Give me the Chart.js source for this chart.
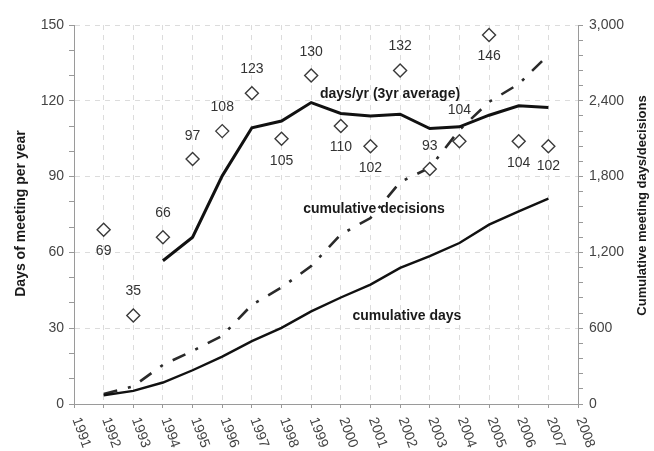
<!DOCTYPE html>
<html>
<head>
<meta charset="utf-8">
<script src="https://cdn.jsdelivr.net/npm/chart.js@4.4.1/dist/chart.umd.min.js"></script>
<style>
  html, body { margin: 0; padding: 0; background: #fff; }
  canvas { display: block; }
</style>
</head>
<body>
<canvas id="myChart" width="654" height="451"></canvas>
<script>
// values
const years = [1992, 1993, 1994, 1995, 1996, 1997, 1998, 1999, 2000, 2001, 2002, 2003, 2004, 2005, 2006, 2007];
const daysPerYear = [69, 35, 66, 97, 108, 123, 105, 130, 110, 102, 132, 93, 104, 146, 104, 102];
const avg3yr = [null, null, 56.7, 66, 90.3, 109.3, 112, 119.3, 115, 114, 114.7, 109, 109.7, 114.3, 118, 117.3];
const cumDays = [69, 104, 170, 267, 375, 498, 603, 733, 843, 945, 1077, 1170, 1274, 1420, 1524, 1626];
const cumDecisions = [80, 140, 310, 420, 540, 785, 922, 1092, 1342, 1472, 1757, 1870, 2169, 2391, 2533, 2763];
const yearTicks = [1991, 1992, 1993, 1994, 1995, 1996, 1997, 1998, 1999, 2000, 2001, 2002, 2003, 2004, 2005, 2006, 2007, 2008];

// where the number sits relative to its diamond (px, minus = above)
const labelShift = [21, -24, -24, -23, -24, -24, 22, -23, 21, 22, -24, -23, -31, 21, 22, 20];

const FONT = "'Liberation Sans', Arial, sans-serif";

const toXY = (vals) => years.map((yr, i) => ({ x: yr, y: vals[i] }));

const seriesText = {
  id: 'seriesText',
  beforeDatasetsDraw(chart) {
    const { ctx, scales } = chart;
    ctx.save();
    ctx.font = 'bold 14px ' + FONT;
    ctx.fillStyle = '#1a1a1a';
    ctx.textAlign = 'center';
    ctx.textBaseline = 'middle';
    ctx.fillText('days/yr (3yr average)', scales.x.getPixelForValue(2001.66), scales.y.getPixelForValue(122.7));
    ctx.fillText('cumulative decisions', scales.x.getPixelForValue(2001.12), scales.y.getPixelForValue(77.2));
    ctx.fillText('cumulative days', scales.x.getPixelForValue(2002.23), scales.y.getPixelForValue(34.8));
    ctx.restore();
  },
  afterDraw(chart) {
    const { ctx, scales } = chart;
    ctx.save();
    // numbers next to the diamonds
    const meta = chart.getDatasetMeta(0);
    ctx.font = '14px ' + FONT;
    ctx.fillStyle = '#333';
    ctx.textAlign = 'center';
    ctx.textBaseline = 'middle';
    meta.data.forEach((pt, i) => {
      ctx.fillText(String(daysPerYear[i]), pt.x, pt.y + labelShift[i]);
    });

    // rotated year labels
    ctx.fillStyle = '#444';
    ctx.textAlign = 'left';
    scales.x.ticks.forEach((t) => {
      const x = scales.x.getPixelForValue(t.value);
      ctx.save();
      ctx.translate(x + 2, scales.x.top + 14);
      ctx.rotate(70 * Math.PI / 180);
      ctx.fillText(String(t.value), 0, 0);
      ctx.restore();
    });

    // axis titles
    ctx.font = 'bold 14px ' + FONT;
    ctx.fillStyle = '#1a1a1a';
    ctx.textAlign = 'center';
    const mid = (chart.chartArea.top + chart.chartArea.bottom) / 2;
    ctx.save();
    ctx.translate(21, mid - 1);
    ctx.rotate(-Math.PI / 2);
    ctx.fillText('Days of meeting per year', 0, 0);
    ctx.restore();
    ctx.font = 'bold 13px ' + FONT;
    ctx.save();
    ctx.translate(642, mid - 9);
    ctx.rotate(-Math.PI / 2);
    ctx.fillText('Cumulative meeting days/decisions', 0, 0);
    ctx.restore();
    ctx.restore();
  }
};

new Chart(document.getElementById('myChart'), {
  type: 'line',
  data: {
    datasets: [
      {
        label: 'days per year',
        data: toXY(daysPerYear),
        yAxisID: 'y',
        showLine: false,
        pointStyle: 'rectRot',
        pointRadius: 6.5,
        pointBorderWidth: 1.4,
        pointBorderColor: '#3a3a3a',
        pointBackgroundColor: '#fff'
      },
      {
        label: 'days/yr (3yr average)',
        data: toXY(avg3yr),
        yAxisID: 'y',
        borderColor: '#111',
        borderWidth: 3,
        pointRadius: 0,
        tension: 0
      },
      {
        label: 'cumulative days',
        data: toXY(cumDays),
        yAxisID: 'y2',
        borderColor: '#111',
        borderWidth: 2.4,
        pointRadius: 0,
        tension: 0
      },
      {
        label: 'cumulative decisions',
        data: toXY(cumDecisions),
        yAxisID: 'y2',
        borderColor: '#2a2a2a',
        borderWidth: 2.6,
        borderDash: [14, 11, 3, 11],
        pointRadius: 0,
        tension: 0
      }
    ]
  },
  options: {
    responsive: false,
    devicePixelRatio: 1,
    animation: false,
    layout: { padding: { top: 25, left: 0, right: 0, bottom: 0 } },
    plugins: { legend: { display: false }, tooltip: { enabled: false } },
    scales: {
      x: {
        type: 'linear',
        min: 1991,
        max: 2008,
        afterBuildTicks: (scale) => { scale.ticks = yearTicks.map((v) => ({ value: v })); },
        afterFit: (scale) => { scale.height = 47; },
        ticks: { display: false },
        grid: { color: '#dcdcdc', tickColor: '#999', tickLength: 4, lineWidth: 1 },
        border: { color: '#9a9a9a', width: 1, dash: [5, 5] }
      },
      y: {
        position: 'left',
        min: 0,
        max: 150,
        afterFit: (scale) => { scale.width = 74; },
        ticks: {
          stepSize: 10,
          autoSkip: false,
          padding: 5,
          color: '#444',
          font: { family: FONT, size: 14 },
          callback: (v) => (v % 30 === 0 ? String(v) : '')
        },
        grid: {
          color: (c) => (c.tick && c.tick.value % 30 === 0 && c.tick.value > 0 ? '#dcdcdc' : 'rgba(0,0,0,0)'),
          tickColor: '#999',
          tickLength: 5
        },
        border: { color: '#9a9a9a', width: 1, dash: [5, 5] }
      },
      y2: {
        position: 'right',
        min: 0,
        max: 3000,
        afterFit: (scale) => { scale.width = 76; },
        ticks: {
          stepSize: 120,
          autoSkip: false,
          padding: 6,
          color: '#444',
          font: { family: FONT, size: 14 },
          callback: (v) => (v % 600 === 0 ? v.toLocaleString('en-US') : '')
        },
        grid: { drawOnChartArea: false, tickColor: '#999', tickLength: 5 },
        border: { color: '#9a9a9a', width: 1 }
      }
    }
  },
  plugins: [seriesText]
});
</script>
</body>
</html>
